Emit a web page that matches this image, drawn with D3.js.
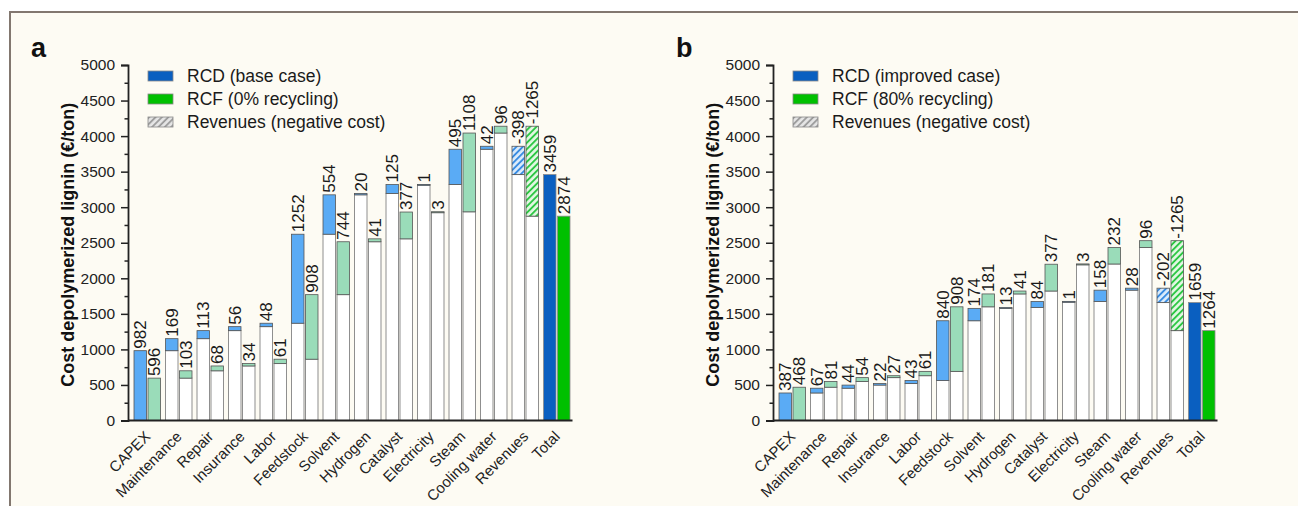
<!DOCTYPE html>
<html>
<head>
<meta charset="utf-8">
<script src="https://cdn.jsdelivr.net/npm/d3@7"></script>
<style>
  body { margin: 0; background: #fff; }
  svg { display: block; font-family: "Liberation Sans", Arial, sans-serif; }
</style>
</head>
<body>
<div id="root"></div>
<script>
// categories and values (€/ton)
var categories = ["CAPEX", "Maintenance", "Repair", "Insurance", "Labor", "Feedstock", "Solvent",
  "Hydrogen", "Catalyst", "Electricity", "Steam", "Cooling water", "Revenues", "Total"];
var rcdBase = [982, 169, 113, 56, 48, 1252, 554, 20, 125, 1, 495, 42, -398, 3459];
var rcf0 = [596, 103, 68, 34, 61, 908, 744, 41, 377, 3, 1108, 96, -1265, 2874];
var rcdImproved = [387, 67, 44, 22, 43, 840, 174, 13, 84, 1, 158, 28, -202, 1659];
var rcf80 = [468, 81, 54, 27, 61, 908, 181, 41, 377, 3, 232, 96, -1265, 1264];
var yTicks = [0, 500, 1000, 1500, 2000, 2500, 3000, 3500, 4000, 4500, 5000];
var legendNames = [
  ["RCD (base case)", "RCF (0% recycling)", "Revenues (negative cost)"],
  ["RCD (improved case)", "RCF (80% recycling)", "Revenues (negative cost)"]
];

var w = 1298, h = 506;
var svg = d3.select("#root").append("svg").attr("width", w).attr("height", h);

// hatch patterns for the revenue bars
var defs = svg.append("defs");
function hatch(id, color, bg) {
  var p = defs.append("pattern").attr("id", id).attr("patternUnits", "userSpaceOnUse")
    .attr("width", 4.5).attr("height", 4.5).attr("patternTransform", "rotate(45)");
  p.append("rect").attr("width", 4.5).attr("height", 4.5).attr("fill", bg);
  p.append("line").attr("x1", 1).attr("y1", 0).attr("x2", 1).attr("y2", 4.5)
    .attr("stroke", color).attr("stroke-width", 1.8);
}
hatch("hBlue", "#2f86e0", "#dcecfb");
hatch("hGreen", "#22c43a", "#e4f7e4");
hatch("hGray", "#9a9a9a", "#e6e6e6");

// frame
svg.append("rect").attr("x", 10).attr("y", 12).attr("width", 1300).attr("height", 510)
  .attr("fill", "#fdfbf3").attr("stroke", "#82776f").attr("stroke-width", 2);

var y = d3.scaleLinear().domain([0, 5000]).range([420.5, 65]);

function steps(vals) {
  var cum = 0;
  return vals.map(function(v, i) {
    if (i === vals.length - 1) return {v: v, lo: 0, hi: v, total: true, i: i};
    var s = cum, e = cum + v;
    cum = e;
    return {v: v, lo: Math.min(s, e), hi: Math.max(s, e), total: false, i: i};
  });
}

function drawPanel(off, letter, blue, green, names) {
  var g = svg.append("g").attr("transform", "translate(" + off + ",0)");
  var axisX = 128;
  var x = d3.scaleBand().domain(categories).range([131.5, 572.5]);
  var sub = d3.scaleBand().domain(["blue", "green"]).range([0, x.bandwidth()])
    .paddingInner(0.107).paddingOuter(0.179);

  var series = [
    {key: "blue", data: steps(blue), light: "#5aabf5", solid: "#0a5fc0", pat: "url(#hBlue)"},
    {key: "green", data: steps(green), light: "#9adcb9", solid: "#00c000", pat: "url(#hGreen)"}
  ];

  series.forEach(function(s) {
    var bx = function(d) { return x(categories[d.i]) + sub(s.key); };
    // white support bars under floating steps
    g.selectAll(".base-" + s.key).data(s.data.filter(function(d) { return d.i > 0 && !d.total; }))
      .enter().append("rect")
      .attr("x", bx).attr("width", sub.bandwidth())
      .attr("y", function(d) { return y(d.lo); })
      .attr("height", function(d) { return y(0) - y(d.lo); })
      .attr("fill", "#fff").attr("stroke", "#8f8f8f").attr("stroke-width", 1);
    // colored step bars
    g.selectAll(".bar-" + s.key).data(s.data).enter().append("rect")
      .attr("x", bx).attr("width", sub.bandwidth())
      .attr("y", function(d) { return y(d.hi); })
      .attr("height", function(d) { return Math.max(1, y(d.lo) - y(d.hi)); })
      .attr("fill", function(d) { return d.total ? s.solid : (d.v < 0 ? s.pat : s.light); })
      .attr("stroke", function(d) { return d.total ? "#8a8a8a" : "#555"; })
      .attr("stroke-width", 0.8);
    // value labels
    g.selectAll(".lab-" + s.key).data(s.data).enter().append("text")
      .attr("transform", function(d) {
        return "translate(" + (bx(d) + sub.bandwidth() / 2) + "," + (y(d.hi) - 2) + ") rotate(-90)";
      })
      .attr("dy", "0.36em").attr("font-size", "17px").attr("fill", "#1a1a1a")
      .text(function(d) { return d.v; });
  });

  // y axis
  var yAxis = g.append("g").attr("transform", "translate(" + axisX + ",0)")
    .call(d3.axisLeft(y).tickValues(yTicks).tickFormat(d3.format("d")).tickSize(7).tickPadding(6));
  g.append("g").attr("transform", "translate(" + axisX + ",0)")
    .call(d3.axisLeft(y).tickValues(d3.range(250, 5000, 500)).tickSize(3.5).tickFormat(""))
    .select(".domain").remove();
  g.selectAll(".tick line").attr("stroke", "#222").attr("stroke-width", 1.5);
  yAxis.select(".domain").attr("stroke", "#222").attr("stroke-width", 1.8);
  yAxis.selectAll("text").attr("font-size", "15.5px").attr("fill", "#222")
    .attr("font-family", "'Liberation Sans', Arial, sans-serif");

  // x axis
  g.append("line").attr("x1", axisX).attr("x2", x.range()[1]).attr("y1", y(0)).attr("y2", y(0))
    .attr("stroke", "#222").attr("stroke-width", 1.8);
  g.selectAll(".cat").data(categories).enter().append("text")
    .attr("transform", function(d) {
      return "translate(" + (x(d) + x.bandwidth() / 2 + 4) + "," + (y(0) + 17) + ") rotate(-45)";
    })
    .attr("text-anchor", "end").attr("font-size", "15px").attr("fill", "#222")
    .text(function(d) { return d; });

  // y axis title
  g.append("text").attr("transform", "translate(74," + ((y(0) + y(5000)) / 2 + 2) + ") rotate(-90)")
    .attr("text-anchor", "middle").attr("font-size", "18px").attr("font-weight", "bold")
    .attr("fill", "#111").text("Cost depolymerized lignin (€/ton)");

  // panel letter
  g.append("text").attr("x", 31).attr("y", 57).attr("font-size", "27px").attr("font-weight", "bold")
    .attr("fill", "#111").text(letter);

  // legend
  var fills = ["#0a5fc0", "#00c000", "url(#hGray)"];
  var lg = g.selectAll(".leg").data(names).enter().append("g")
    .attr("transform", function(d, i) { return "translate(148," + (71 + i * 23) + ")"; });
  lg.append("rect").attr("width", 25).attr("height", 10)
    .attr("fill", function(d, i) { return fills[i]; }).attr("stroke", "#888").attr("stroke-width", 0.8);
  lg.append("text").attr("x", 39).attr("y", 5).attr("dy", "0.36em").attr("font-size", "17.5px")
    .attr("fill", "#1a1a1a").text(function(d) { return d; });
}

drawPanel(0, "a", rcdBase, rcf0, legendNames[0]);
drawPanel(645, "b", rcdImproved, rcf80, legendNames[1]);
</script>
</body>
</html>
